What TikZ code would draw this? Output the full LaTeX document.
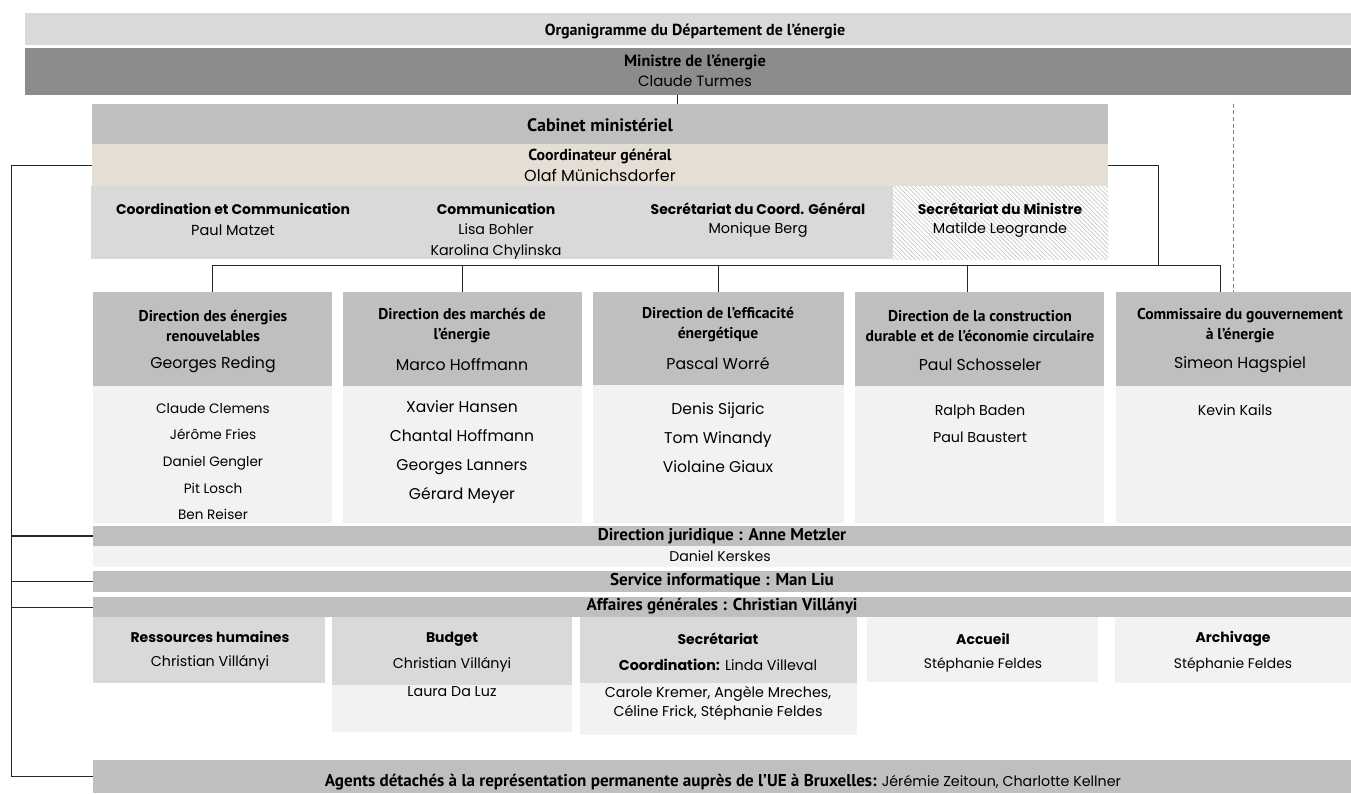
\documentclass[tikz,border=0pt]{standalone}
\usepackage{fontspec}
\setmainfont{Poppins}
\newfontfamily\hdfont{PT Sans}
\usetikzlibrary{fit,patterns.meta}

\definecolor{lightgr}{HTML}{D9D9D9}
\definecolor{darkgr}{HTML}{8C8C8C}
\definecolor{midgr}{HTML}{BFBFBF}
\definecolor{palegr}{HTML}{F2F2F2}
\definecolor{beige}{HTML}{E4DED4}
\definecolor{linegr}{HTML}{262626}

\newcommand{\nmtext}[1]{{\normalfont\fontsize{10.7}{12}\selectfont #1}}

\tikzset{
  box/.style={inner sep=0pt, fill=#1},
  hd/.style={font={\hdfont\bfseries\fontsize{#1}{15}\selectfont}, align=center, inner sep=0pt},
  hd/.default=11.7,
  bd/.style={font={\bfseries\fontsize{#1}{15}\selectfont}, align=center, inner sep=0pt},
  bd/.default=10.5,
  nm/.style={font={\fontsize{#1}{15}\selectfont}, align=center, inner sep=0pt},
  nm/.default=10.7,
  lst/.style 2 args={font={\fontsize{#1}{#2}\selectfont}, align=center, inner sep=0pt},
  link/.style={draw=linegr, line width=0.75pt},
}

\begin{document}
\begin{tikzpicture}[x=0.75pt,y=-0.75pt]
    \useasboundingbox (0,0) rectangle (1351,793);

    % Top: title, minister, cabinet
    \node[box=lightgr, fit={(25,13) (1351,45)}] (ti) {};
    \node[box=darkgr, fit={(25,48) (1351,95)}] (mi) {};
    \node[box=midgr, fit={(92,104) (1108,144)}] (cab) {};
    \node[box=beige, fit={(92,144) (1108,186)}] (coord) {};
    \node[hd=12] (tit) at (695,31) {Organigramme du Département de l’énergie};
    \node[hd=12.2] (mit) at (695,62) {Ministre de l’énergie};
    \node[nm=11.2] (min) at (695,81) {Claude Turmes};
    \node[hd=13.5] (cabt) at (600,125) {Cabinet ministériel};
    \node[hd=11.9] (coot) at (600,156) {Coordinateur général};
    \node[nm=12] (coon) at (600,175) {Olaf Münichsdorfer};

    % Secretariats under the coordinator
    \node[box=lightgr, fit={(91,186) (365,259)}] (cc) {};
    \node[box=lightgr, fit={(365,186) (625,259)}] (com) {};
    \node[box=lightgr, fit={(625,186) (893,259)}] (scg) {};
    \node[inner sep=0pt, pattern={Lines[angle=-45,distance=2.3pt,line width=0.5pt]},
          pattern color=gray!45, fit={(893,186) (1108,259)}] (smi) {};
    \node[bd] (cct) at (233,209) {Coordination et Communication};
    \node[nm=10.9] (ccn) at (233,230) {Paul Matzet};
    \node[bd] (comt) at (496,209) {Communication};
    \node[lst={10.7}{15.75}] (comn) at (496,241.5) {Lisa Bohler\\Karolina Chylinska};
    \node[bd] (scgt) at (758,209) {Secrétariat du Coord. Général};
    \node[nm=10.8] (scgn) at (758,230) {Monique Berg};
    \node[bd] (smit) at (1000,209) {Secrétariat du Ministre};
    \node[nm=10.8] (smin) at (1000,230) {Matilde Leogrande};

    % Directions
    \node[box=midgr, fit={(93,292) (332,386)}] (d1) {};
    \node[box=midgr, fit={(343,292) (582,386)}] (d2) {};
    \node[box=midgr, fit={(593,292) (844,385)}] (d3) {};
    \node[box=midgr, fit={(855,292) (1104,386)}] (d4) {};
    \node[box=midgr, fit={(1116,292) (1351,386)}] (d5) {};
    \node[box=palegr, fit={(93,386) (332,523)}] (d1b) {};
    \node[box=palegr, fit={(343,386) (582,523)}] (d2b) {};
    \node[box=palegr, fit={(593,385) (844,523)}] (d3b) {};
    \node[box=palegr, fit={(855,386) (1104,523)}] (d4b) {};
    \node[box=palegr, fit={(1116,386) (1351,523)}] (d5b) {};

    \node[hd] (d1t) at (213,326) {Direction des énergies\\renouvelables};
    \node[nm=11.8] (d1n) at (213,365) {Georges Reding};
    \node[lst={10.2}{20}] (d1l) at (213,461.5) {Claude Clemens\\Jérôme Fries\\Daniel Gengler\\Pit Losch\\Ben Reiser};
    \node[hd] (d2t) at (462,326) {Direction des marchés de\\l’énergie};
    \node[nm=11.8] (d2n) at (462,365) {Marco Hoffmann};
    \node[lst={11.7}{21.75}] (d2l) at (462,452.5) {Xavier Hansen\\Chantal Hoffmann\\Georges Lanners\\Gérard Meyer};
    \node[hd] (d3t) at (718,325) {Direction de l’efficacité\\énergétique};
    \node[nm=11.8] (d3n) at (718,363) {Pascal Worré};
    \node[lst={11.7}{21.75}] (d3l) at (718,438) {Denis Sijaric\\Tom Winandy\\Violaine Giaux};
    \node[hd] (d4t) at (980,326) {Direction de la construction\\durable et de l’économie circulaire};
    \node[nm=11.8] (d4n) at (980,365) {Paul Schosseler};
    \node[lst={10.7}{20.25}] (d4l) at (980,423.5) {Ralph Baden\\Paul Baustert};
    \node[hd] (d5t) at (1240,326) {Commissaire du gouvernement\\à l’énergie};
    \node[nm=11.8] (d5n) at (1240,365) {Simeon Hagspiel};
    \node[nm] (d5l) at (1235,410) {Kevin Kails};

    % Services bars
    \node[box=midgr, fit={(93,526) (1351,546)}] (dj) {};
    \node[box=palegr, fit={(93,546) (1351,567)}] (djb) {};
    \node[box=midgr, fit={(93,571) (1351,592)}] (si) {};
    \node[box=midgr, fit={(93,597) (1351,617)}] (af) {};
    \node[hd=12.8] (djt) at (722,536) {Direction juridique : Anne Metzler};
    \node[nm=10.6] (djn) at (720,556) {Daniel Kerskes};
    \node[hd=12.8] (sit) at (722,581) {Service informatique : Man Liu};
    \node[hd=12.8] (aft) at (722,606) {Affaires générales : Christian Villányi};

    % General affairs units
    \node[box=lightgr, fit={(93,617) (325,683)}] (rh) {};
    \node[box=lightgr, fit={(332,617) (572,685)}] (bu) {};
    \node[box=palegr, fit={(332,685) (572,732)}] (bub) {};
    \node[box=lightgr, fit={(580,617) (857,683)}] (se) {};
    \node[box=palegr, fit={(580,683) (857,735)}] (seb) {};
    \node[box=palegr, fit={(867,617) (1098,682)}] (ac) {};
    \node[box=palegr, fit={(1115,617) (1351,683)}] (ar) {};
    \node[bd] (rht) at (210,637) {Ressources humaines};
    \node[nm] (rhn) at (210,663) {Christian Villányi};
    \node[bd] (but) at (452,639) {Budget};
    \node[nm] (bun) at (452,665) {Christian Villányi};
    \node[nm] (bul) at (452,692) {Laura Da Luz};
    \node[bd] (set) at (718,639) {Secrétariat};
    \node[nm] (sen) at (718,665) {{\bfseries Coordination:} Linda Villeval};
    \node[lst={10.7}{14.25}] (sel) at (718,703.5) {Carole Kremer, Angèle Mreches,\\Céline Frick, Stéphanie Feldes};
    \node[bd] (act) at (983,639) {Accueil};
    \node[nm=10.4] (acn) at (983,665) {Stéphanie Feldes};
    \node[bd] (art) at (1233,639) {Archivage};
    \node[nm=10.4] (arn) at (1233,665) {Stéphanie Feldes};

    % Brussels
    \node[box=midgr, fit={(93,760) (1351,793)}] (ag) {};
    \node[hd=12.8] (agt) at (723,782) {Agents détachés à la représentation permanente auprès de l’UE à Bruxelles:\nmtext{ Jérémie Zeitoun, Charlotte Kellner}};

    % Draw the links
    \coordinate (mt) at (677,95);
    \draw[link] (mt) -- (mt |- cab.north);
    \coordinate (bus) at (1158,265);
    \coordinate (t4) at (967,292);
    \coordinate (t5) at (1220,292);
    \draw[link] (coord.east) -| (bus);
    \draw[link] (d1.north |- bus) -- (t5 |- bus);
    \draw[link] (d1.north |- bus) -- (d1.north);
    \draw[link] (d2.north |- bus) -- (d2.north);
    \draw[link] (d3.north |- bus) -- (d3.north);
    \draw[link] (t4 |- bus) -- (t4);
    \draw[link] (t5 |- bus) -- (t5);
    \draw[gray, line width=0.75pt, dash pattern=on 3pt off 2pt] (d5.north |- cab.north) -- (d5.north);

    \coordinate (lb) at (11,165);
    \draw[link] (coord.west) -- (lb) |- (ag.west);
    \draw[link, line width=1.6pt] (lb |- dj.west) -- (dj.west);
    \draw[link] (lb |- si.west) -- (si.west);
    \draw[link] (lb |- af.west) -- (af.west);
\end{tikzpicture}
\end{document}
